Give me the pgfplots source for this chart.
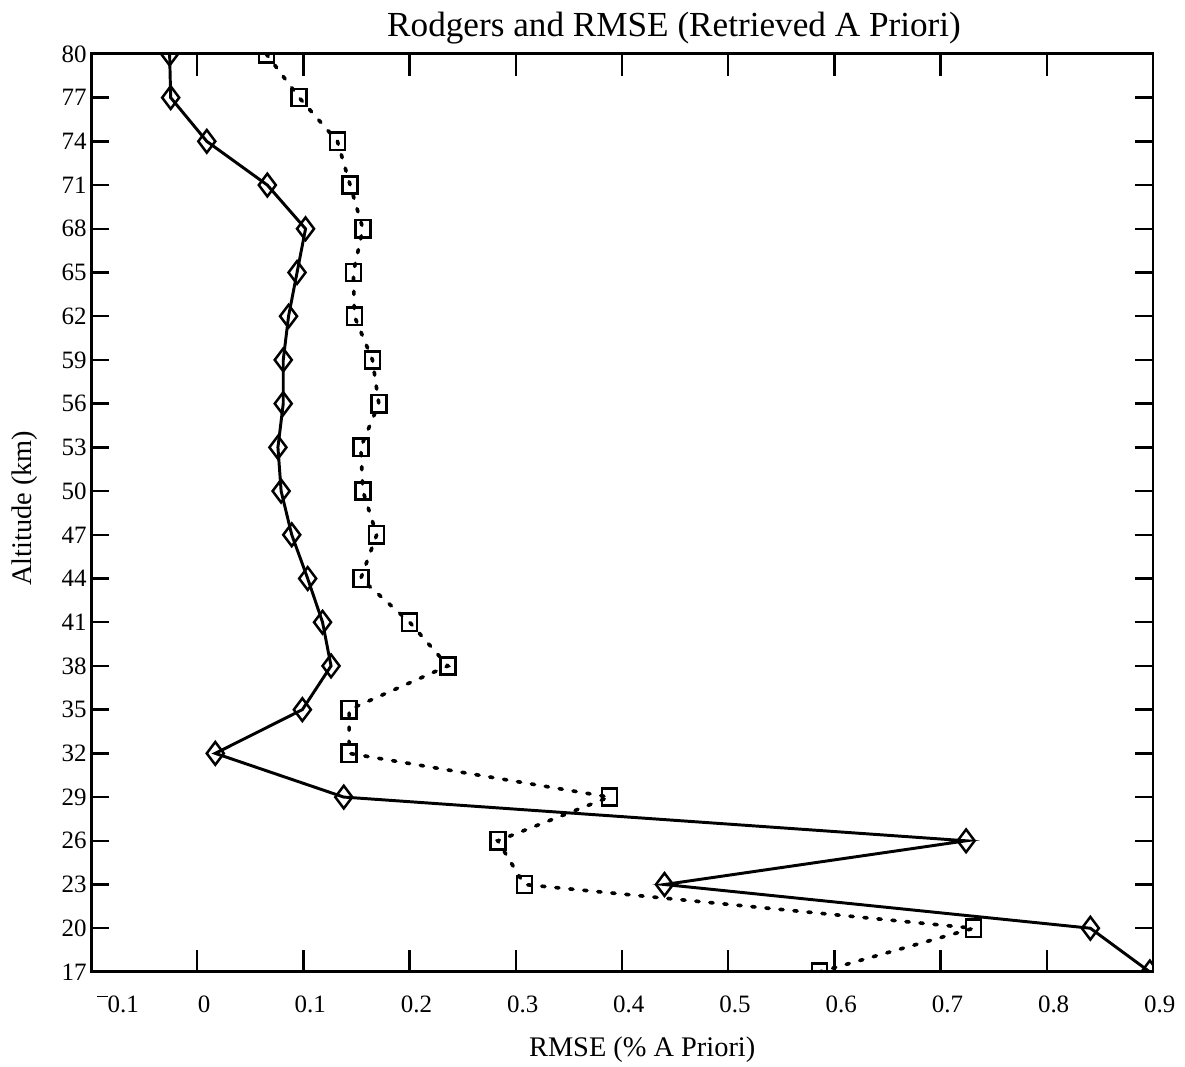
\documentclass[border=0pt]{standalone}
\usepackage{pgfplots}
\pgfplotsset{compat=1.18}
\usepackage{fontspec}
\setmainfont{Liberation Serif}

% Rodgers error (diamonds) and RMSE (squares) against altitude
\pgfplotstableread{
x       alt
-0.026  80
-0.025  77
0.009   74
0.066   71
0.102   68
0.094   65
0.086   62
0.081   59
0.081   56
0.076   53
0.079   50
0.089   47
0.104   44
0.118   41
0.126   38
0.099   35
0.017   32
0.138   29
0.724   26
0.440   23
0.841   20
0.897   17
}\rodgers

\pgfplotstableread{
x       alt
0.065   80
0.096   77
0.132   74
0.144   71
0.156   68
0.147   65
0.148   62
0.165   59
0.171   56
0.154   53
0.156   50
0.169   47
0.154   44
0.200   41
0.236   38
0.143   35
0.143   32
0.388   29
0.283   26
0.308   23
0.731   20
0.586   17
}\rmse

\begin{document}
\begin{tikzpicture}
\begin{axis}[
  scale only axis,
  width=467.8pt, height=404.4pt,
  xmin=-0.1, xmax=0.9, ymin=17, ymax=80,
  clip marker paths=true,
  axis line style={line width=1.3pt},
  tick align=inside,
  xtick={-0.1,0,0.1,0.2,0.3,0.4,0.5,0.6,0.7,0.8,0.9},
  xticklabels={{\hspace*{17.8pt}\raisebox{0.62em}{\rule{0.42em}{0.07em}}0.1},0,0.1,0.2,0.3,0.4,0.5,0.6,0.7,0.8,0.9},
  ytick={17,20,...,80},
  /pgf/number format/assume math mode=true,
  xtick style={line width=1.1pt, black, /pgfplots/major tick length=9.7pt},
  ytick style={line width=1.1pt, black, /pgfplots/major tick length=7.9pt},
  tick label style={font=\fontsize{11}{13}\selectfont},
  yticklabel style={inner sep=0pt, xshift=-1.8pt},
  xticklabel style={anchor=base, inner sep=0pt, yshift=-18pt, xshift=3pt},
  title={Rodgers and RMSE (Retrieved A Priori)},
  title style={at={(axis description cs:0.549,1.0042)}, anchor=base, inner sep=0pt,
               font=\fontsize{15.5}{18}\selectfont},
  xlabel={RMSE (\% A Priori)},
  xlabel style={at={(axis description cs:0.519,-0.0925)}, anchor=base, inner sep=0pt,
                font=\fontsize{12.5}{15}\selectfont},
  ylabel={Altitude (km)},
  ylabel style={at={(axis description cs:-0.0556,0.505)}, anchor=base, inner sep=0pt,
                font=\fontsize{12.5}{15}\selectfont},
]
\addplot[black, line width=1.3pt, mark=diamond, mark size=5pt,
         mark options={line width=1.1pt, solid}] table[x=x, y=alt] {\rodgers};
\addplot[black, line width=1.6pt, line cap=round, dash pattern=on 1.4pt off 4.8pt,
         mark=square, mark size=3.3pt,
         mark options={line width=1.1pt, solid, yscale=1.15}] table[x=x, y=alt] {\rmse};
\end{axis}
\pgfresetboundingbox
\path (current axis.south west) ++(-40.1pt,-41.85pt) rectangle ++(522pt,470pt);
\end{tikzpicture}
\end{document}
